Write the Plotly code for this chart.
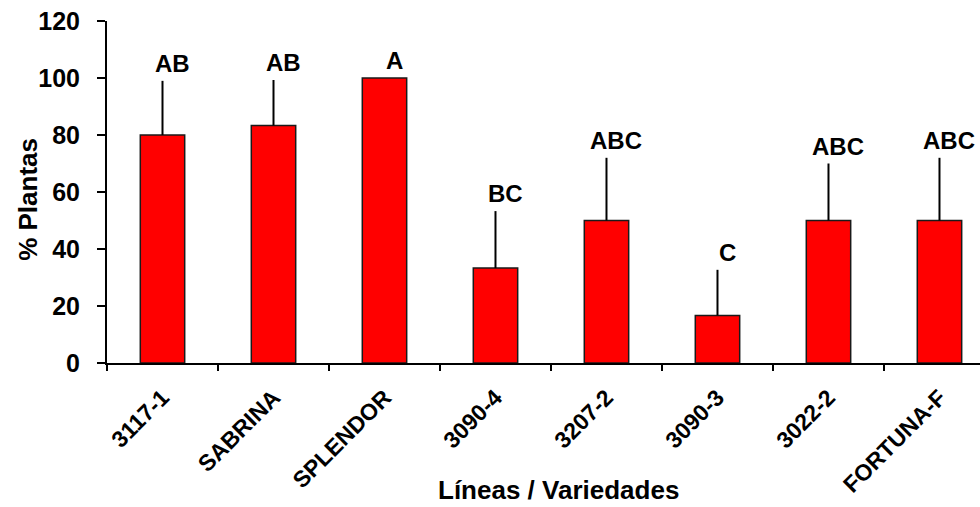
import plotly.graph_objects as go

categories = ["3117-1", "SABRINA", "SPLENDOR", "3090-4", "3207-2", "3090-3", "3022-2", "FORTUNA-F"]
plant_pct = [80.0, 83.3, 100.0, 33.3, 50.0, 16.7, 50.0, 50.0]
error_up = [19.0, 16.0, 0.0, 20.0, 22.0, 16.0, 20.0, 22.0]
letters = ["AB", "AB", "A", "BC", "ABC", "C", "ABC", "ABC"]
y_ticks = [0, 20, 40, 60, 80, 100, 120]

FONT = "Liberation Sans, Arial, sans-serif"

fig = go.Figure()
fig.add_trace(go.Bar(
    x=categories,
    y=plant_pct,
    marker=dict(color="#FF0000", line=dict(color="#1a1a1a", width=1.5)),
    error_y=dict(type="data", symmetric=False, array=error_up,
                 arrayminus=[0] * len(error_up), color="black",
                 thickness=2, width=0),
    showlegend=False,
))

for c, v, e, t in zip(categories, plant_pct, error_up, letters):
    fig.add_annotation(x=c, y=v + e, text=t, showarrow=False,
                       xanchor="center", yanchor="bottom", xshift=10, yshift=2,
                       font=dict(family=FONT, size=24, color="black", weight="bold"))

fig.add_annotation(xref="paper", yref="paper", x=0, y=0.477, xshift=-79,
                   text="% Plantas", textangle=-90, showarrow=False,
                   xanchor="center", yanchor="middle",
                   font=dict(family=FONT, size=26, color="black", weight="bold"))
fig.add_annotation(xref="paper", yref="paper", x=0.517, y=0, yshift=-127,
                   text="Líneas / Variedades", showarrow=False,
                   xanchor="center", yanchor="middle",
                   font=dict(family=FONT, size=26, color="black", weight="bold"))

fig.update_layout(
    width=980, height=507,
    margin=dict(l=107, r=0, t=21, b=144),
    paper_bgcolor="white", plot_bgcolor="white",
    bargap=0.6,
    font=dict(family=FONT, color="black"),
)
fig.update_xaxes(
    type="category",
    range=[-0.5, 7.365], showline=True, linecolor="black", linewidth=2,
    ticks="outside", tickson="boundaries", ticklen=6, tickwidth=2, tickcolor="black",
    tickangle=-45, tickfont=dict(family=FONT, size=23, color="black", weight="bold"),
    ticklabelstandoff=10,
    showgrid=False, zeroline=False,
)
fig.update_yaxes(
    range=[0, 120], tickvals=y_ticks, showline=True, linecolor="black", linewidth=2,
    ticks="outside", ticklen=8, tickwidth=2, tickcolor="black",
    tickfont=dict(family=FONT, size=25, color="black", weight="bold"),
    ticklabelstandoff=12,
    showgrid=False, zeroline=False,
)

fig.write_html("out.html")
